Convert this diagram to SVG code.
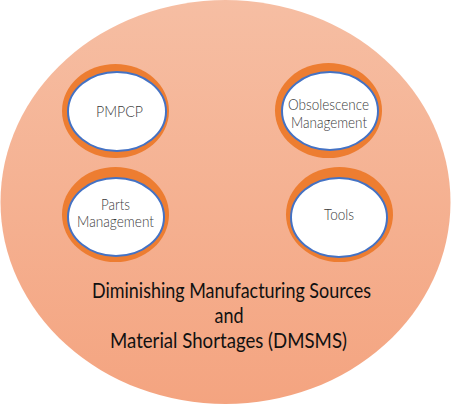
<svg xmlns="http://www.w3.org/2000/svg" width="451" height="404" viewBox="0 0 451 404">
  <defs>
    <linearGradient id="bg" x1="0" y1="0" x2="0" y2="1">
      <stop offset="0" stop-color="#F6BEA3"/>
      <stop offset="1" stop-color="#F4A480"/>
    </linearGradient>
  </defs>
  <style>
    .ring { fill: #ED7D31; }
    .inner { fill: #FFFFFF; stroke: #4472C4; stroke-width: 2; }
    .lbl { font-family: Lato, "Liberation Sans", sans-serif; font-weight: 300; font-size: 15px; fill: #3A3A3A; text-anchor: middle; }
    .main { font-family: Lato, "Liberation Sans", sans-serif; font-weight: 400; font-size: 21px; fill: #111111; text-anchor: middle; }
  </style>
  <ellipse id="background" cx="225.5" cy="202" rx="225" ry="202" fill="url(#bg)"/>
  <g id="pmpcp">
    <ellipse class="ring" cx="115.5" cy="111" rx="53.5" ry="47"/>
    <ellipse class="inner" cx="117" cy="111.5" rx="49" ry="39.5"/>
    <text class="lbl" x="119.5" y="117" style="font-size:16.5px" textLength="47" lengthAdjust="spacingAndGlyphs">PMPCP</text>
  </g>
  <g id="obsolescence">
    <ellipse class="ring" cx="328.5" cy="110.5" rx="53.5" ry="47.5"/>
    <ellipse class="inner" cx="330" cy="111" rx="48" ry="39"/>
    <text class="lbl" x="328.5" y="110" textLength="81" lengthAdjust="spacingAndGlyphs">Obsolescence</text>
    <text class="lbl" x="329" y="127.5" textLength="76" lengthAdjust="spacingAndGlyphs">Management</text>
  </g>
  <g id="parts">
    <ellipse class="ring" cx="115.5" cy="214.5" rx="53.5" ry="47.5"/>
    <ellipse class="inner" cx="116" cy="217" rx="48" ry="39"/>
    <text class="lbl" x="115.5" y="210" textLength="29" lengthAdjust="spacingAndGlyphs">Parts</text>
    <text class="lbl" x="115.5" y="227" textLength="77" lengthAdjust="spacingAndGlyphs">Management</text>
  </g>
  <g id="tools">
    <ellipse class="ring" cx="339.5" cy="214.5" rx="53.5" ry="47.5"/>
    <ellipse class="inner" cx="339" cy="217.5" rx="48" ry="39.5"/>
    <text class="lbl" x="339" y="220" textLength="30" lengthAdjust="spacingAndGlyphs">Tools</text>
  </g>
  <g id="connectors"/>
  <g id="title">
    <text class="main" x="231.5" y="298" textLength="279" lengthAdjust="spacingAndGlyphs">Diminishing Manufacturing Sources</text>
    <text class="main" x="229" y="323" textLength="29" lengthAdjust="spacingAndGlyphs">and</text>
    <text class="main" x="228.5" y="348" textLength="237" lengthAdjust="spacingAndGlyphs">Material Shortages (DMSMS)</text>
  </g>
</svg>
